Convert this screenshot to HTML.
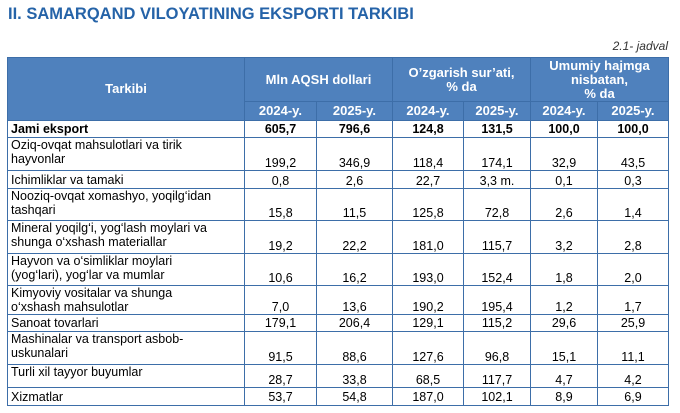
<!DOCTYPE html>
<html><head><meta charset="utf-8"><style>
body{margin:0;width:680px;height:413px;background:#fff;font-family:"Liberation Sans",Arial,sans-serif;position:relative;overflow:hidden}
.t{position:absolute;left:8px;top:5px;color:#2563a8;font-weight:bold;font-size:16.5px;letter-spacing:0px}
.j{position:absolute;right:12px;top:39px;font-style:italic;font-size:12px;color:#333}
table{position:absolute;left:7px;top:57px;border-collapse:collapse;table-layout:fixed;font-size:12.5px;color:#000}
td,th{border:1px solid #3d6ea8;padding:0 3px;line-height:14px;white-space:nowrap}
th{background:#4f81bd;color:#fff;font-weight:bold;text-align:center;font-size:13px}
td{text-align:center;vertical-align:bottom}
td.l{text-align:left;vertical-align:top}
td.m{vertical-align:middle}
.b td{font-weight:bold}
</style></head><body>
<div class="t">II. SAMARQAND VILOYATINING EKSPORTI TARKIBI</div>
<div class="j">2.1- jadval</div>
<table>
<colgroup><col style="width:237px"><col style="width:72px"><col style="width:76px"><col style="width:71px"><col style="width:67px"><col style="width:67px"><col style="width:71px"></colgroup>
<tr style="height:44px"><th rowspan="2">Tarkibi</th><th colspan="2">Mln AQSH dollari</th><th colspan="2">O’zgarish sur’ati,<br>% da</th><th colspan="2">Umumiy hajmga<br>nisbatan,<br>% da</th></tr>
<tr style="height:19px"><th>2024-y.</th><th>2025-y.</th><th>2024-y.</th><th>2025-y.</th><th>2024-y.</th><th>2025-y.</th></tr>
<tr class="b" style="height:17px"><td class="l m">Jami eksport</td><td class="m">605,7</td><td class="m">796,6</td><td class="m">124,8</td><td class="m">131,5</td><td class="m">100,0</td><td class="m">100,0</td></tr>
<tr style="height:33px"><td class="l">Oziq-ovqat mahsulotlari va tirik<br>hayvonlar</td><td>199,2</td><td>346,9</td><td>118,4</td><td>174,1</td><td>32,9</td><td>43,5</td></tr>
<tr style="height:18px"><td class="l m">Ichimliklar va tamaki</td><td>0,8</td><td>2,6</td><td>22,7</td><td>3,3 m.</td><td>0,1</td><td>0,3</td></tr>
<tr style="height:32px"><td class="l">Nooziq-ovqat xomashyo, yoqilg‘idan<br>tashqari</td><td>15,8</td><td>11,5</td><td>125,8</td><td>72,8</td><td>2,6</td><td>1,4</td></tr>
<tr style="height:33px"><td class="l">Mineral yoqilg‘i, yog‘lash moylari va<br>shunga o‘xshash materiallar</td><td>19,2</td><td>22,2</td><td>181,0</td><td>115,7</td><td>3,2</td><td>2,8</td></tr>
<tr style="height:32px"><td class="l">Hayvon va o‘simliklar moylari<br>(yog‘lari), yog‘lar va mumlar</td><td>10,6</td><td>16,2</td><td>193,0</td><td>152,4</td><td>1,8</td><td>2,0</td></tr>
<tr style="height:28px"><td class="l">Kimyoviy vositalar va shunga<br>o‘xshash mahsulotlar</td><td>7,0</td><td>13,6</td><td>190,2</td><td>195,4</td><td>1,2</td><td>1,7</td></tr>
<tr style="height:17px"><td class="l m">Sanoat tovarlari</td><td class="m">179,1</td><td class="m">206,4</td><td class="m">129,1</td><td class="m">115,2</td><td class="m">29,6</td><td class="m">25,9</td></tr>
<tr style="height:33px"><td class="l">Mashinalar va transport asbob-<br>uskunalari</td><td>91,5</td><td>88,6</td><td>127,6</td><td>96,8</td><td>15,1</td><td>11,1</td></tr>
<tr style="height:23px"><td class="l">Turli xil tayyor buyumlar</td><td>28,7</td><td>33,8</td><td>68,5</td><td>117,7</td><td>4,7</td><td>4,2</td></tr>
<tr style="height:18px"><td class="l m">Xizmatlar</td><td class="m">53,7</td><td class="m">54,8</td><td class="m">187,0</td><td class="m">102,1</td><td class="m">8,9</td><td class="m">6,9</td></tr>
</table>
</body></html>
